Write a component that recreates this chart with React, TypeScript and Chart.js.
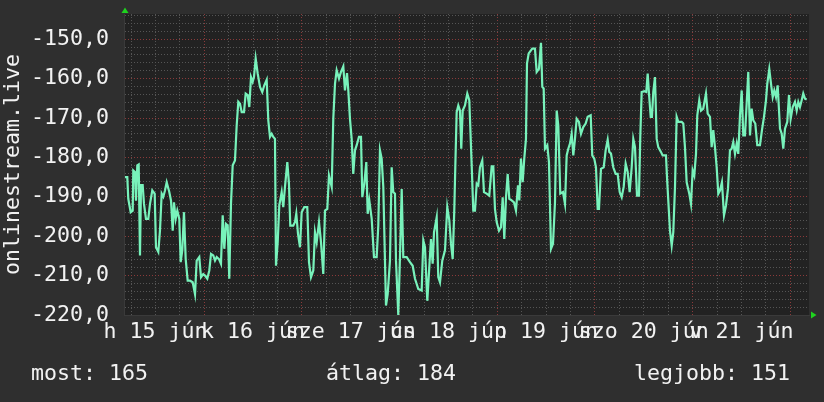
import React, { useEffect, useRef } from "react";
import { Chart, registerables } from "chart.js";

Chart.register(...registerables);

// ---- data (hours since Mon 15 Jun 00:00, values) ----
const DAY_LABELS = ["h 15 jún", "k 16 jún", "sze 17 jún", "cs 18 jún", "p 19 jún", "szo 20 jún", "v 21 jún"];
const DAY_NOON_HOURS = [12, 36, 60, 84, 108, 132, 156];
const Y_AXIS_TITLE = "onlinestream.live";
const Y_MIN = -220;
const Y_MAX = -143.6;
const X_MIN = 4.27;
const X_MAX = 172.6;

const TIME_H = [
  4.51, 5.08, 5.32, 5.91, 6.41, 6.55, 6.97, 7.22, 7.54, 7.88, 8.2, 8.45, 8.86, 9.18, 9.67, 10.24, 10.66, 11.22, 11.81, 12.13,
  12.7, 13.11, 13.53, 13.93, 14.34, 14.76, 15.4, 15.82, 16.24, 16.55, 16.97, 17.37, 17.86, 18.2, 18.59, 19.01, 19.43, 19.92, 20.49, 21.15,
  21.72, 22.13, 22.77, 23.19, 23.75, 24.17, 24.74, 25.23, 25.65, 26.21, 26.63, 27.05, 27.61, 28.1, 28.52, 28.92, 29.33, 29.75, 30.14, 30.56,
  30.98, 31.54, 31.96, 32.36, 32.77, 33.19, 33.76, 34.17, 34.66, 35.06, 35.48, 35.89, 36.21, 36.63,
  37.12, 37.69, 38.25, 38.74, 39.33, 39.73, 40.14, 40.56, 40.96, 41.37, 41.62, 42.04, 42.43, 43.02, 43.41, 43.83, 44.4, 44.81, 45.13, 45.87,
  46.29, 46.61, 47.03, 47.52, 47.93, 48.57, 49.31, 49.73, 50.22, 50.79, 51.2, 51.62, 52.19, 52.68, 53.24, 53.66, 54.23, 54.64, 55.31, 55.7,
  56.12, 56.53, 57.1, 57.59, 58.16, 58.57, 59.07, 59.39, 59.8, 60.22, 60.61, 61.03, 61.45, 62.01, 62.51, 62.83, 63.32, 63.81, 64.15, 64.55,
  65.14, 65.7, 66.36, 66.76, 67.17, 67.59, 67.99, 68.65, 69.07, 69.63,
  70.05, 70.44, 70.86, 71.11, 71.67, 72.09, 72.51, 72.9, 73.74, 74.55, 75.21, 75.78, 76.59, 77.42, 77.82, 78.23, 78.8, 79.29, 79.71, 80.12,
  80.45, 81.11, 81.5, 81.92, 82.48, 83.15, 83.71, 84.21, 84.62, 85.04, 85.43, 85.68, 86.02, 86.42, 86.83, 87.15, 87.5, 88.06, 88.63, 89.12,
  89.71, 90.1, 90.52, 90.94, 91.33, 91.75, 92.31, 92.73, 93.39, 94.03, 94.62, 95.02, 95.43, 95.85, 96.42, 96.91, 97.33, 97.72, 98.14, 98.56,
  98.95, 99.54, 100.1, 100.59, 101.09, 101.41, 101.82, 102.24, 102.63, 103.05, 103.3, 103.72,
  104.6, 105.26, 105.68, 106.25, 106.74, 107.06, 107.4, 107.72, 108.29, 108.7, 109.2, 109.69, 110.18, 110.6, 110.99, 111.48, 112.14, 112.64, 113.05, 113.45,
  113.86, 114.28, 114.68, 115.09, 115.51, 116.07, 116.57, 117.13, 117.72, 118.21, 118.95, 119.34, 119.83, 120.25, 120.67, 120.99, 121.48, 122.15, 122.63, 123.13,
  123.52, 123.94, 124.5, 125.09, 125.58, 126.08, 126.57, 127.06, 127.55, 128.04, 128.53, 129.03, 129.42, 129.84, 130.33, 130.82, 131.14, 131.48, 132.12, 132.61,
  132.96, 133.28, 133.7, 134.01, 134.33, 134.75, 135.17, 135.56, 136.22,
  136.64, 137.45, 137.77, 138.02, 138.44, 138.86, 139.25, 139.67, 140.08, 140.48, 141.31, 141.71, 142.12, 142.54, 143.18, 143.6, 144.01, 144.41, 144.83, 145.15,
  145.64, 146.06, 146.62, 147.28, 147.7, 148.27, 148.68, 149.08, 149.49, 149.91, 150.31, 150.72, 151.21, 151.71, 152.2, 152.69, 153.18, 153.6, 153.99, 154.41,
  154.83, 155.22, 155.64, 156.06, 156.45, 156.87, 157.28, 157.68, 158.1, 158.51, 158.91, 159.4, 159.89, 160.55, 161.04, 161.54, 162.03, 162.35, 162.84, 163.26,
  163.68, 164.07, 164.49, 164.9, 165.47, 165.89, 166.28, 166.7, 167.26, 167.68, 168.09, 168.59, 169.15, 169.57, 169.97, 170.38, 170.8, 171.19, 171.61, 172.03,
];

const VALUES = [
  -185.0, -185.0, -190.5, -193.9, -193.5, -183.3, -183.7, -191.0, -182.0, -181.8, -204.9, -187.0, -187.0, -191.8, -195.6, -195.6, -191.8, -188.4, -189.2, -202.8,
  -204.0, -198.6, -189.2, -190.0, -188.4, -186.3, -188.8, -191.0, -198.6, -191.4, -195.6, -193.5, -195.6, -206.6, -203.6, -193.9, -205.8, -211.3, -211.3, -211.7,
  -214.7, -206.2, -205.3, -210.4, -209.6, -210.0, -210.8, -208.7, -204.5, -204.9, -206.2, -205.3, -205.8, -207.0, -194.7, -203.2, -196.9, -197.3, -210.8, -191.8,
  -182.0, -180.8, -171.9, -165.9, -166.4, -168.5, -168.5, -163.8, -164.2, -167.2, -159.6, -160.8, -159.6, -154.9,
  -158.7, -162.1, -163.4, -161.7, -160.3, -170.6, -174.8, -174.0, -174.8, -175.3, -207.5, -201.5, -192.2, -188.8, -192.6, -187.5, -181.2, -186.7, -197.3, -197.3,
  -196.4, -194.3, -199.4, -202.8, -193.9, -192.6, -192.6, -206.6, -210.4, -208.7, -199.0, -201.5, -196.4, -201.5, -209.6, -193.5, -193.1, -184.6, -187.5, -170.2,
  -161.3, -157.9, -160.0, -158.3, -156.9, -163.0, -158.6, -163.0, -170.2, -175.3, -184.2, -178.2, -176.9, -174.8, -174.8, -190.1, -186.7, -181.2, -194.3, -190.9,
  -195.6, -205.3, -205.3, -197.3, -178.2, -180.3, -187.5, -217.6, -214.7, -206.2,
  -182.5, -188.8, -189.2, -206.2, -220.0, -205.3, -188.0, -205.3, -205.3, -206.6, -207.5, -210.8, -213.4, -213.8, -201.1, -202.8, -216.4, -207.9, -200.7, -207.0,
  -199.0, -195.2, -210.4, -211.7, -206.2, -203.6, -192.6, -196.0, -201.9, -205.8, -193.5, -182.5, -168.5, -166.8, -168.1, -177.8, -168.1, -166.8, -163.8, -165.5,
  -182.0, -193.5, -193.5, -186.7, -187.1, -182.5, -180.8, -188.8, -189.2, -189.7, -182.3, -182.3, -193.1, -196.4, -198.6, -197.7, -190.1, -200.7, -190.1, -184.2,
  -190.5, -190.9, -191.4, -193.5, -187.1, -190.9, -180.3, -186.3, -180.3, -175.3, -156.2, -153.6,
  -152.4, -152.4, -158.3, -157.5, -150.9, -162.1, -162.5, -177.8, -176.9, -181.2, -203.2, -201.9, -191.4, -168.1, -171.9, -189.2, -188.8, -191.8, -179.5, -177.8,
  -176.5, -174.0, -179.5, -175.3, -170.2, -171.0, -174.0, -172.3, -171.4, -169.7, -169.3, -179.5, -180.3, -182.5, -193.1, -193.1, -182.9, -182.5, -178.2, -175.5,
  -178.6, -179.0, -182.5, -184.2, -184.2, -188.8, -190.1, -187.5, -181.6, -183.7, -188.8, -182.5, -175.3, -177.4, -189.7, -189.7, -174.8, -163.4, -163.2, -163.4,
  -158.7, -163.8, -169.7, -169.7, -163.4, -159.6, -175.3, -177.4, -178.6,
  -179.5, -179.5, -186.3, -190.9, -198.6, -202.4, -199.0, -187.5, -169.7, -171.0, -171.0, -171.4, -177.4, -186.3, -189.2, -191.8, -183.3, -184.6, -179.1, -169.3,
  -165.5, -168.1, -167.6, -163.8, -168.9, -169.7, -177.4, -173.1, -177.4, -182.5, -189.2, -188.4, -186.3, -194.7, -192.2, -188.0, -178.2, -177.8, -176.1, -179.1,
  -176.5, -179.1, -169.3, -163.0, -174.4, -174.4, -166.4, -158.3, -174.4, -167.6, -170.6, -171.4, -176.9, -176.9, -173.1, -169.7, -165.5, -161.3, -157.6, -161.3,
  -164.7, -163.0, -164.7, -161.7, -172.7, -174.0, -177.8, -172.7, -171.0, -164.2, -170.2, -167.2, -165.9, -168.1, -165.9, -167.2, -165.5, -163.8, -165.1, -165.3,
];

const STAT_NAMES = ["most", "átlag", "legjobb"];
const STAT_VALUES = [165, 184, 151];

// ---- styling ----
const FONT_FAMILY = "'DejaVu Sans Mono', monospace";
const FONT_SIZE = 21.6;
const TEXT_COLOR = "#f2f2f2";
const PAGE_BG = "#2f2f2f";
const PLOT_BG = "#222222";
const GRID_MINOR = "#555555";
const GRID_MAJOR = "#8a3a3a";
const LINE_COLOR = "#78f2bb";
const ARROW_COLOR = "#1fd21f";
const STAT_LEFT = [31, 326, 634];

export default function App() {
  const canvasRef = useRef<HTMLCanvasElement>(null);

  useEffect(() => {
    const canvas = canvasRef.current;
    if (!canvas) return;

    const rrdPlugin = {
      id: "rrdDecor",
      beforeDraw(chart: any) {
        const { ctx, chartArea: a } = chart;
        ctx.save();
        ctx.fillStyle = PLOT_BG;
        ctx.fillRect(a.left, a.top, a.right - a.left, a.bottom - a.top);
        ctx.restore();
      },
      afterDraw(chart: any) {
        const { ctx, chartArea: a } = chart;
        ctx.save();
        ctx.fillStyle = ARROW_COLOR;
        ctx.beginPath();
        ctx.moveTo(a.left + 1, a.top - 6.5);
        ctx.lineTo(a.left - 2.5, a.top - 1);
        ctx.lineTo(a.left + 4.5, a.top - 1);
        ctx.closePath();
        ctx.fill();
        ctx.beginPath();
        ctx.moveTo(a.right + 7.5, a.bottom);
        ctx.lineTo(a.right + 2, a.bottom - 3.5);
        ctx.lineTo(a.right + 2, a.bottom + 3.5);
        ctx.closePath();
        ctx.fill();
        ctx.restore();
      },
    };

    const font = { family: FONT_FAMILY, size: FONT_SIZE };

    const chart = new Chart(canvas, {
      type: "line",
      data: {
        datasets: [
          {
            data: TIME_H.map((t, i) => ({ x: t, y: VALUES[i] })),
            borderColor: LINE_COLOR,
            borderWidth: 2.2,
            pointRadius: 0,
            tension: 0,
            fill: false,
          },
        ],
      },
      options: {
        animation: false,
        responsive: false,
        devicePixelRatio: 1,
        layout: { padding: { left: 0, top: 14, right: 15, bottom: 0 } },
        plugins: { legend: { display: false }, tooltip: { enabled: false } },
        scales: {
          x: {
            type: "linear",
            min: X_MIN,
            max: X_MAX,
            afterBuildTicks(scale: any) {
              const t: any[] = [];
              for (let h = 6; h <= 168; h += 6) t.push({ value: h });
              scale.ticks = t;
            },
            afterFit(scale: any) {
              scale.height = 87;
              scale.paddingLeft = 0;
              scale.paddingRight = 0;
            },
            ticks: {
              autoSkip: false,
              maxRotation: 0,
              minRotation: 0,
              padding: 4,
              color: TEXT_COLOR,
              font,
              callback: (v: any) => {
                const i = DAY_NOON_HOURS.indexOf(Math.round(Number(v)));
                return i >= 0 ? DAY_LABELS[i] : "";
              },
            },
            grid: {
              drawTicks: false,
              lineWidth: 1,
              color: (c: any) => (c.tick && Math.round(c.tick.value) % 24 === 0 ? GRID_MAJOR : GRID_MINOR),
            },
            border: { display: true, color: "#3a3a3a", dash: [1, 2] },
          },
          y: {
            type: "linear",
            min: Y_MIN,
            max: Y_MAX,
            afterBuildTicks(scale: any) {
              const t: any[] = [];
              for (let v = -220; v <= -144; v += 2) t.push({ value: v });
              scale.ticks = t;
            },
            afterFit(scale: any) {
              scale.width = 124;
              scale.paddingTop = 0;
              scale.paddingBottom = 0;
            },
            ticks: {
              autoSkip: false,
              padding: 15,
              color: TEXT_COLOR,
              font,
              callback: (v: any) => {
                const n = Math.round(Number(v));
                return n % 10 === 0 ? n.toFixed(1).replace(".", ",") : "";
              },
            },
            grid: {
              drawTicks: false,
              lineWidth: 1,
              color: (c: any) => (c.tick && Math.round(c.tick.value) % 10 === 0 ? GRID_MAJOR : GRID_MINOR),
            },
            border: { display: true, color: "#3a3a3a", dash: [1, 2] },
            title: {
              display: true,
              text: Y_AXIS_TITLE,
              color: TEXT_COLOR,
              font,
              padding: 0,
            },
          },
        },
      },
      plugins: [rrdPlugin],
    } as any);

    return () => chart.destroy();
  }, []);

  return (
    <div
      style={{
        position: "absolute",
        left: 0,
        top: 0,
        width: 824,
        height: 402,
        background: PAGE_BG,
        overflow: "hidden",
      }}
    >
      <canvas ref={canvasRef} width={824} height={402} style={{ display: "block" }} />
      {STAT_NAMES.map((name, i) => (
        <div
          key={name}
          style={{
            position: "absolute",
            left: STAT_LEFT[i],
            top: 359.5,
            fontFamily: FONT_FAMILY,
            fontSize: FONT_SIZE,
            lineHeight: "26px",
            color: TEXT_COLOR,
            whiteSpace: "pre",
          }}
        >
          {`${name}: ${STAT_VALUES[i]}`}
        </div>
      ))}
    </div>
  );
}
